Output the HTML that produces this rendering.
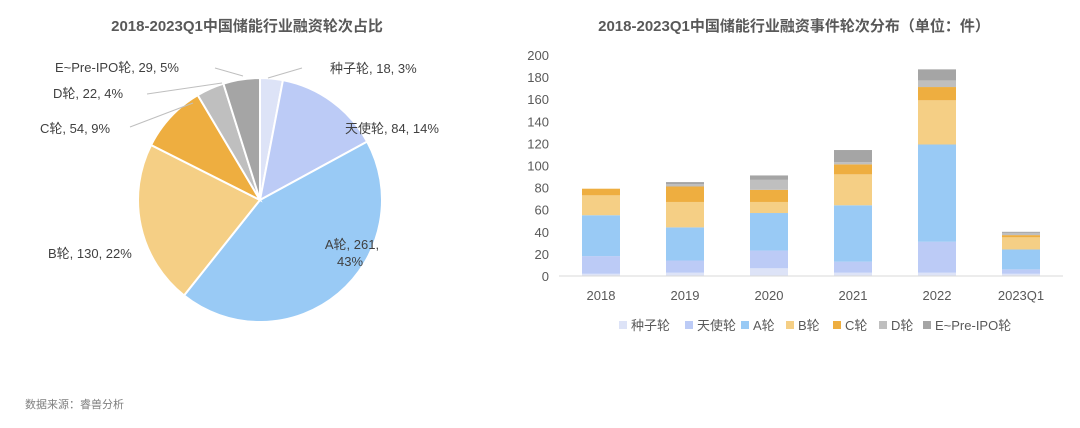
<!DOCTYPE html>
<html><head><meta charset="utf-8"><style>
body{margin:0;background:#fff;width:1080px;height:423px;overflow:hidden;font-family:"Liberation Sans","Noto Sans CJK SC",sans-serif}
svg text{font-family:"Liberation Sans","Noto Sans CJK SC",sans-serif}
</style></head><body>
<svg id="s" width="1080" height="423">
<text x="247" y="31" text-anchor="middle" font-size="15" font-weight="bold" fill="#595959">2018-2023Q1中国储能行业融资轮次占比</text>
<text x="794" y="31" text-anchor="middle" font-size="15" font-weight="bold" fill="#595959">2018-2023Q1中国储能行业融资事件轮次分布（单位：件）</text>
<text x="25" y="408" font-size="11" fill="#7f7f7f">数据来源：睿兽分析</text>
<g id="pie"></g>
<g id="bars"></g>
</svg>
<script>
const rounds=['种子轮','天使轮','A轮','B轮','C轮','D轮','E~Pre-IPO轮'];
const colors=['#dde3f7','#bccbf6','#99caf5','#f5cf85','#eeae40','#bfbfbf','#a5a5a5'];
const pieValues=[18,84,261,130,54,22,29];
const piePct=['3%','14%','43%','22%','9%','4%','5%'];
const years=['2018','2019','2020','2021','2022','2023Q1'];
const seed=[2,3,7,3,3,2];
const angel=[16,11,16,10,28,4];
const roundA=[37,30,34,51,88,18];
const roundB=[18,23,10,28,40,11];
const roundC=[6,14,11,9,12,2];
const roundD=[0,2,9,2,6,2];
const roundE=[0,2,4,11,10,1];
const yTicks=[0,20,40,60,80,100,120,140,160,180,200];
const NS='http://www.w3.org/2000/svg';
function mk(t,a,p){const e=document.createElementNS(NS,t);for(const k in a)e.setAttribute(k,a[k]);p.appendChild(e);return e;}
// pie
const pie=document.getElementById('pie');
const cx=260,cy=200,r=122;
const tot=pieValues.reduce((a,b)=>a+b,0);
let ang=0;
const labelPos=[[330,73,'start'],[345,133,'start'],[345,251,'middle'],[48,258,'start'],[40,133,'start'],[53,98,'start'],[55,72,'start']];
pieValues.forEach((v,i)=>{
 const a0=ang,a1=ang+v/tot*2*Math.PI;ang=a1;
 const x0=cx+r*Math.sin(a0),y0=cy-r*Math.cos(a0),x1=cx+r*Math.sin(a1),y1=cy-r*Math.cos(a1);
 const p=mk('path',{d:`M${cx},${cy}L${x0},${y0}A${r},${r} 0 ${a1-a0>Math.PI?1:0} 1 ${x1},${y1}Z`,fill:colors[i],stroke:'#fff','stroke-width':2},pie);
 
 
 const lp=labelPos[i];
 const t=mk('text',{x:lp[0],y:lp[1],'text-anchor':lp[2],'font-size':13,fill:'#404040'},pie);
 
 
 if(i==2){t.setAttribute('x',352);t.setAttribute('y',249);t.textContent=rounds[i]+', '+v+',';
  const t2=mk('text',{x:350,y:266,'text-anchor':'middle','font-size':13,fill:'#404040'},pie);t2.textContent=piePct[i];
  
  }
 else t.textContent=rounds[i]+', '+v+', '+piePct[i];
});
[[[268,78],[302,68]],[[243,76],[215,68]],[[222,83],[147,94]],[[193,103],[130,127]]].forEach((l,i)=>{
 const ln=mk('polyline',{points:l.map(p=>p.join(',')).join(' '),fill:'none',stroke:'#bfbfbf','stroke-width':1},pie);
 
 
});
// bars
const g=document.getElementById('bars');
const y0=276,pxPer=(276-55)/200;
const Y=v=>y0-v*pxPer;
const X=i=>601+i*84;
yTicks.forEach(t=>{const e=mk('text',{x:549,y:Y(t)+5,'text-anchor':'end','font-size':13,fill:'#595959'},g);e.textContent=t;
 
 });
const series=[seed,angel,roundA,roundB,roundC,roundD,roundE];
years.forEach((yr,i)=>{
 let acc=0;
 series.forEach((s,k)=>{const v=s[i];const rc=mk('rect',{x:X(i)-19,y:Y(acc+v),width:38,height:v*pxPer,fill:colors[k]},g);acc+=v;
  
  });
 const t=mk('text',{x:X(i),y:300,'text-anchor':'middle','font-size':13,fill:'#595959'},g);t.textContent=yr;
 
 
});
const ax=mk('line',{x1:559,x2:1063,y1:y0,y2:y0,stroke:'#d9d9d9'},g);


const lx=[619,685,741,786,833,879,923];
rounds.forEach((n,i)=>{
 const sq=mk('rect',{x:lx[i],y:321,width:8,height:8,fill:colors[i]},g);
 
 
 const t=mk('text',{x:lx[i]+12,y:330,'font-size':13,fill:'#595959'},g);t.textContent=n;
 
 
});
</script>
</body></html>
